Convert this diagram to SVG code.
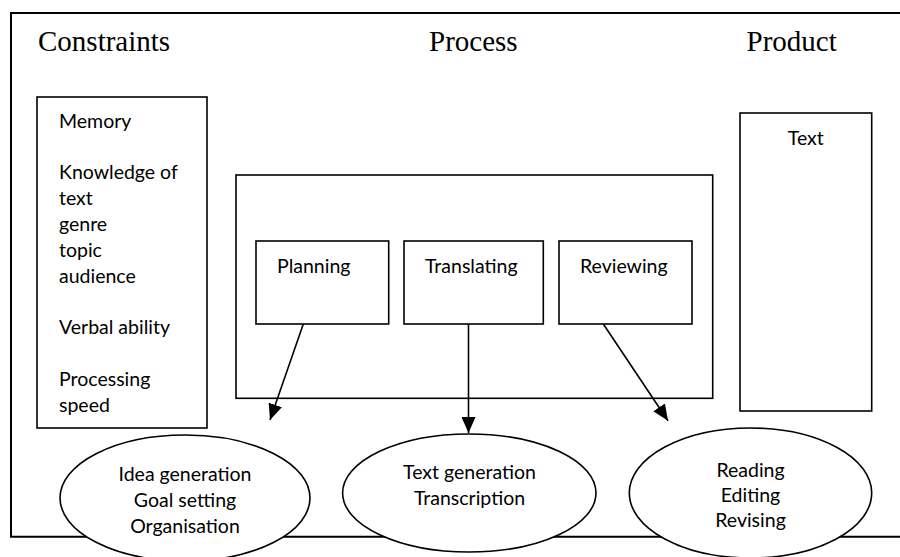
<svg xmlns="http://www.w3.org/2000/svg" width="900" height="557" viewBox="0 0 900 557">
  <style>
    .frame { fill: none; stroke: #000; stroke-width: 2; }
    .box { fill: #fff; stroke: #000; stroke-width: 1.6; }
    .oval { fill: #fff; stroke: #000; stroke-width: 1.6; }
    .title { font-family: "Liberation Serif", "Times New Roman", serif; font-size: 29px; fill: #000; }
    .lbl { font-family: Lato, "Open Sans", sans-serif; font-size: 19.5px; fill: #000; }
    .mid { text-anchor: middle; }
    .conn { stroke: #000; stroke-width: 1.6; fill: none; marker-end: url(#arrow); }
  </style>
  <defs>
    <marker id="arrow" markerUnits="userSpaceOnUse" markerWidth="16" markerHeight="14" viewBox="0 0 16 14" refX="16" refY="7" orient="auto">
      <path d="M0,0 L16,7 L0,14 z" fill="#000"/>
    </marker>
  </defs>
  <rect width="900" height="557" fill="#fff"/>

  <g id="frame">
    <path class="frame" d="M905,13 H11 V536.7 H905"/>
    <text class="title" x="38" y="51">Constraints</text>
    <text class="title" x="429" y="51">Process</text>
    <text class="title" x="746.5" y="51">Product</text>
  </g>

  <g id="constraints">
    <rect class="box" x="37" y="97" width="170" height="331"/>
    <text class="lbl" x="59" y="127.5">Memory</text>
    <text class="lbl" x="59" y="179.2">Knowledge of</text>
    <text class="lbl" x="59" y="205">text</text>
    <text class="lbl" x="59" y="230.9">genre</text>
    <text class="lbl" x="59" y="256.7">topic</text>
    <text class="lbl" x="59" y="282.6">audience</text>
    <text class="lbl" x="59" y="334.3">Verbal ability</text>
    <text class="lbl" x="59" y="386">Processing</text>
    <text class="lbl" x="59" y="411.9">speed</text>
  </g>

  <g id="process">
    <rect class="box" x="236" y="175" width="476.7" height="223.3"/>
  </g>

  <g id="planning">
    <rect class="box" x="256" y="241" width="132.7" height="83"/>
    <text class="lbl" x="277" y="273">Planning</text>
  </g>
  <g id="translating">
    <rect class="box" x="404" y="241" width="139.3" height="83"/>
    <text class="lbl" x="425" y="273">Translating</text>
  </g>
  <g id="reviewing">
    <rect class="box" x="559" y="241" width="133" height="83"/>
    <text class="lbl" x="580" y="273">Reviewing</text>
  </g>

  <g id="product">
    <rect class="box" x="740" y="113" width="131.7" height="298"/>
    <text class="lbl mid" x="805.8" y="145">Text</text>
  </g>

  <g id="connectors">
    <line class="conn" x1="303.3" y1="324" x2="270" y2="420"/>
    <line class="conn" x1="468.5" y1="324" x2="468.5" y2="433"/>
    <line class="conn" x1="603.3" y1="324" x2="668" y2="420.7"/>
  </g>

  <g id="idea">
    <ellipse class="oval" cx="185" cy="498" rx="125" ry="63"/>
    <text class="lbl mid" x="185" y="481">Idea generation</text>
    <text class="lbl mid" x="185" y="507">Goal setting</text>
    <text class="lbl mid" x="185" y="533">Organisation</text>
  </g>
  <g id="textgen">
    <ellipse class="oval" cx="469.3" cy="493" rx="126.7" ry="59"/>
    <text class="lbl mid" x="469.5" y="479">Text generation</text>
    <text class="lbl mid" x="469.5" y="505">Transcription</text>
  </g>
  <g id="reading">
    <ellipse class="oval" cx="750.5" cy="493" rx="121.2" ry="65"/>
    <text class="lbl mid" x="750.5" y="476.7">Reading</text>
    <text class="lbl mid" x="750.5" y="501.7">Editing</text>
    <text class="lbl mid" x="750.5" y="526.7">Revising</text>
  </g>
</svg>
